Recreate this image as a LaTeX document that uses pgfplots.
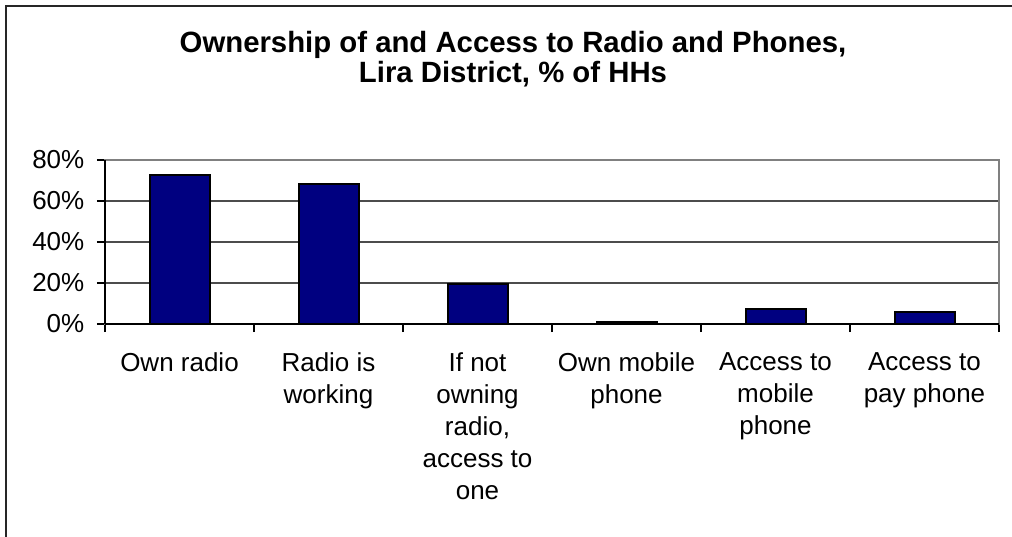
\documentclass[border=0pt]{standalone}
\usepackage{pgfplots}
\pgfplotsset{compat=1.18}
\usepackage{fontspec}
\setmainfont{Liberation Sans}
\definecolor{barnavy}{RGB}{0,0,128}
\definecolor{framegray}{RGB}{128,128,128}
\begin{document}
\begin{tikzpicture}
\useasboundingbox (0pt,0pt) rectangle (759pt,-402pt);
\draw[line width=1.5pt, black!85] (4.5pt,-410pt) -- (4.5pt,-4.5pt) -- (770pt,-4.5pt);
\node[anchor=base, font=\bfseries\fontsize{22}{26}\selectfont] at (384.75pt,-39pt) {Ownership of and Access to Radio and Phones,};
\node[anchor=base, font=\bfseries\fontsize{22}{26}\selectfont] at (384.75pt,-61.5pt) {Lira District, \% of HHs};
\begin{axis}[
  at={(78.75pt,-243pt)}, anchor=south west,
  width=670.5pt, height=123pt, scale only axis,
  xmin=-0.5, xmax=5.5, ymin=0, ymax=80,
  axis line style={draw=framegray, line width=0.9pt},
  ytick={0,20,40,60,80},
  yticklabels={0\%,20\%,40\%,60\%,80\%},
  ymajorgrids,
  major grid style={black!70, line width=0.8pt},
  xtick={-0.5,0.5,1.5,2.5,3.5,4.5,5.5},
  xticklabels={},
  extra x ticks={0,1,2,3,4,5},
  extra x tick labels={{Own radio}, {Radio is\\working}, {If not\\owning\\radio,\\access to\\one}, {Own mobile\\phone}, {Access to\\mobile\\phone}, {Access to\\pay phone}},
  extra x tick style={major tick length=0pt, grid=none, xticklabel style={align=center, anchor=north, yshift=-18pt, font=\fontsize{19.5}{24}\selectfont}},
  tick align=outside,
  xtick pos=bottom, ytick pos=left,
  major tick length=6pt,
  tick style={black, line width=0.8pt},
  y tick label style={font=\fontsize{19.5}{23}\selectfont, anchor=east, xshift=-6pt},
  clip=false,
]
\addplot[ybar, bar width=45pt, fill=barnavy, draw=black, line width=1.5pt] coordinates {
  (0,72.5) (1,68.3) (2,19.4) (3,1.1) (4,7.5) (5,5.7)
};
\draw[black, line width=0.9pt] (rel axis cs:0,0) -- (rel axis cs:0,1);
\draw[black, line width=0.9pt] (rel axis cs:0,0) -- (rel axis cs:1,0);
\end{axis}
\end{tikzpicture}
\end{document}
